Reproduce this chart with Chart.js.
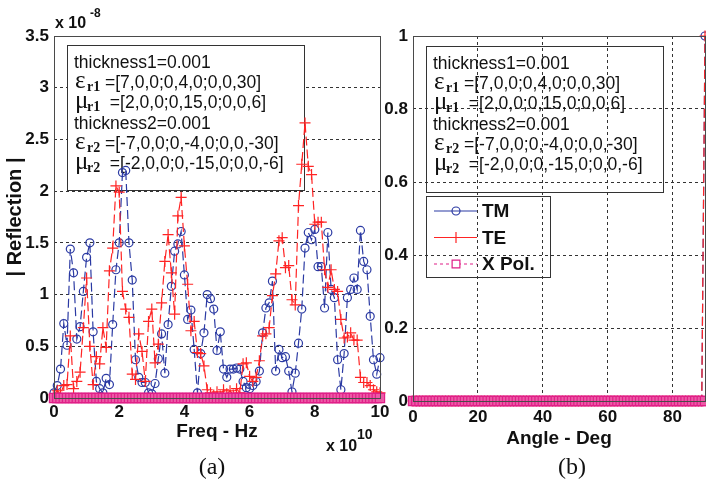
<!DOCTYPE html>
<html>
<head>
<meta charset="utf-8">
<script src="https://cdn.jsdelivr.net/npm/chart.js@4.4.1/dist/chart.umd.min.js"></script>
<style>
  html, body { margin: 0; padding: 0; background: #fff; }
  #wrap { position: relative; width: 706px; height: 488px; overflow: hidden; }
  canvas { position: absolute; top: 0; }
  #cLeft { left: 0; }
  #cRight { left: 380px; }
</style>
</head>
<body>
<div id="wrap">
  <canvas id="cLeft" width="390" height="488"></canvas>
  <canvas id="cRight" width="326" height="488"></canvas>
</div>
<script>
/* ── data ─────────────────────────────────────────────── */

// (a) frequency sweep, x 10^10 Hz
const FREQ_START = 0, FREQ_STEP = 0.1, FREQ_COUNT = 101;
const FREQ = Array.from({ length: FREQ_COUNT }, (_, i) => +(FREQ_START + i * FREQ_STEP).toFixed(2));
const FREQ_TICKS = [0, 2, 4, 6, 8, 10];
const REFL_TICKS = [0, 0.5, 1, 1.5, 2, 2.5, 3, 3.5];

// |Reflection| x 10^-8
const TM_FREQ = [
  0.05, 0.12, 0.28, 0.72, 0.51, 1.44, 1.21, 0.57, 0.69, 1.03,
  1.36, 1.50, 0.64, 0.16, 0.09, 0.05, 0.19, 0.13, 0.71, 1.24,
  1.50, 2.18, 2.20, 1.50, 1.14, 0.37, 0.20, 0.15, 0.15, 0.05,
  0.04, 0.14, 0.38, 0.62, 0.24, 0.71, 1.08, 1.42, 1.49, 1.61,
  1.19, 0.76, 0.85, 0.47, 0.05, 0.43, 0.63, 1.00, 0.96, 0.86,
  0.46, 0.64, 0.28, 0.20, 0.28, 0.28, 0.29, 0.28, 0.16, 0.10,
  0.09, 0.12, 0.16, 0.26, 0.63, 0.87, 0.92, 1.13, 0.26, 0.47,
  0.39, 0.40, 0.26, 0.06, 0.24, 0.53, 0.86, 1.45, 1.60, 1.53,
  1.63, 1.27, 1.27, 0.87, 1.60, 1.05, 0.97, 0.37, 0.08, 0.43,
  0.97, 1.05, 1.16, 1.05, 1.62, 1.32, 1.24, 0.79, 0.37, 0.23,
  0.39,
];
const TE_FREQ = [
  0.03, 0.07, 0.04, 0.12, 0.13, 0.60, 0.09, 0.16, 0.25, 0.68,
  1.16, 0.50, 0.13, 0.40, 0.33, 0.68, 0.49, 1.23, 1.45, 2.05,
  1.99, 1.03, 0.86, 0.78, 0.23, 0.18, 0.62, 0.45, 0.16, 0.74,
  0.86, 0.34, 0.52, 0.92, 1.32, 1.58, 1.21, 0.81, 1.76, 1.94,
  1.47, 1.10, 0.65, 0.74, 0.44, 0.43, 0.31, 0.08, 0.05, 0.03,
  0.06, 0.02, 0.08, 0.04, 0.07, 0.03, 0.09, 0.05, 0.33, 0.34,
  0.21, 0.16, 0.20, 0.36, 0.60, 0.62, 0.68, 0.99, 1.20, 1.52,
  1.55, 1.26, 1.28, 0.95, 0.90, 1.86, 2.26, 2.66, 2.24, 2.16,
  1.68, 1.70, 1.70, 1.24, 1.07, 1.24, 1.05, 1.03, 0.76, 0.58,
  0.59, 0.63, 0.56, 0.56, 0.20, 0.15, 0.15, 0.12, 0.08, 0.06,
  0.05,
];
const XPOL_FREQ = Array(FREQ_COUNT).fill(0);

// (b) angle sweep, degrees
const ANGLE = Array.from({ length: 91 }, (_, i) => i);
const ANGLE_TICKS = [0, 20, 40, 60, 80];
const ANGLE_Y_TICKS = [0, 0.2, 0.4, 0.6, 0.8, 1];
const TM_ANGLE = [...Array(90).fill(0), 1];
const TE_ANGLE = [...Array(90).fill(0), 1];
const XPOL_ANGLE = Array(91).fill(0);

const SERIES_LABELS = ['TM', 'TE', 'X Pol.'];

// text box contents: [greek, subscript, rest] or [plain]
const NOTE_LINES = [
  ['thickness1=0.001'],
  ['\u03b5', 'r1', '=[7,0,0;0,4,0;0,0,30]'],
  ['\u03bc', 'r1', ' =[2,0,0;0,15,0;0,0,6]'],
  ['thickness2=0.001'],
  ['\u03b5', 'r2', '=[-7,0,0;0,-4,0;0,0,-30]'],
  ['\u03bc', 'r2', ' =[-2,0,0;0,-15,0;0,0,-6]'],
];

/* ── styles ───────────────────────────────────────────── */
const SANS  = "'Liberation Sans', Arial, sans-serif";
const SERIF = "'Liberation Serif', 'Times New Roman', serif";
const COL = { tm: '#2b3aa3', te: '#ff2424', xpol: '#e01f88', xpolFill: '#ec5aa6', ink: '#111', grid: '#333', frame: '#4a4a4a' };

const STYLE = {
  TM:   { borderColor: COL.tm,   pointStyle: 'circle', pointRadius: 4,   fill: 'rgba(0,0,0,0)', borderDash: [9, 4], order: 3 },
  TE:   { borderColor: COL.te,   pointStyle: 'cross',  pointRadius: 5.5, fill: 'rgba(0,0,0,0)', borderDash: [9, 4], order: 2 },
  XPOL: { borderColor: COL.xpol, pointStyle: 'rect',   pointRadius: 6.5, fill: COL.xpolFill,    borderDash: [3, 3], order: 1 },
};

function series(label, xs, ys, st) {
  return {
    label,
    data: xs.map((x, i) => ({ x, y: ys[i] })),
    borderColor: st.borderColor,
    pointBorderColor: st.borderColor,
    backgroundColor: 'rgba(0,0,0,0)',
    pointBackgroundColor: st.fill,
    pointStyle: st.pointStyle,
    pointRadius: st.pointRadius,
    pointBorderWidth: 1.2,
    borderWidth: 1.2,
    borderDash: st.borderDash,
    tension: 0,
    clip: false,
    order: st.order,
  };
}

// ── helper: text box with greek + subscripts ─────────────
function drawNote(ctx, box) {
  ctx.save();
  ctx.setLineDash([]);
  if (box.fill) { ctx.fillStyle = '#fff'; ctx.fillRect(box.x, box.y, box.w, box.h); }
  ctx.strokeStyle = '#333'; ctx.lineWidth = 1;
  ctx.strokeRect(box.x + 0.5, box.y + 0.5, box.w, box.h);
  ctx.fillStyle = COL.ink;
  ctx.textBaseline = 'alphabetic';
  NOTE_LINES.forEach((ln, i) => {
    const by = box.y + 23 + i * 20.2;
    const x0 = box.x + 7;
    if (ln.length === 1) {
      ctx.font = `17.5px ${SANS}`;
      ctx.fillText(ln[0], x0, by);
    } else {
      ctx.font = `25px ${SERIF}`;
      ctx.fillText(ln[0], x0 + 1, by);
      ctx.font = `bold 14px ${SERIF}`;
      ctx.fillText(ln[1], x0 + 13, by + 3);
      ctx.font = `17.5px ${SANS}`;
      ctx.fillText(ln[2], x0 + 31, by);
    }
  });
  ctx.restore();
}

// ── helper: legend box drawn like the MATLAB one ─────────
function drawLegend(chart, lg) {
  const ctx = chart.ctx;
  ctx.save();
  ctx.strokeStyle = '#333'; ctx.lineWidth = 1; ctx.setLineDash([]);
  ctx.strokeRect(lg.x + 0.5, lg.y + 0.5, lg.w, lg.h);
  chart.data.datasets.forEach((ds, i) => {
    const y = lg.y + 15 + i * 26.5;
    ctx.strokeStyle = ds.borderColor;
    ctx.lineWidth = 1.2;
    ctx.setLineDash(i === 2 ? [3, 3] : []);
    ctx.beginPath(); ctx.moveTo(lg.x + 8, y); ctx.lineTo(lg.x + 51, y); ctx.stroke();
    ctx.setLineDash([]);
    ctx.fillStyle = i === 2 ? '#fff' : 'rgba(0,0,0,0)';
    const r = i === 2 ? 5.5 : ds.pointRadius;
    Chart.helpers.drawPoint(ctx, { pointStyle: ds.pointStyle, radius: r, borderWidth: 1.2, rotation: 0 }, lg.x + 30, y);
    ctx.fillStyle = COL.ink;
    ctx.font = `bold 19px ${SANS}`;
    ctx.textBaseline = 'middle';
    ctx.fillText(ds.label, lg.x + 56, y + 1);
  });
  ctx.restore();
}

// ── plugin: frame, notes, legend, exponent labels ───────
const figurePlugin = {
  id: 'figure',
  beforeDatasetsDraw(chart, args, opts) {
    if (opts.note) drawNote(chart.ctx, opts.note);
  },
  afterDraw(chart, args, opts) {
    const ctx = chart.ctx, a = chart.chartArea;
    ctx.save();
    ctx.strokeStyle = COL.frame; ctx.lineWidth = 1; ctx.setLineDash([]);
    ctx.strokeRect(a.left + 0.5, a.top + 0.5, a.right - a.left, a.bottom - a.top);
    ctx.restore();
    if (opts.legend) drawLegend(chart, opts.legend);
    ctx.save();
    ctx.fillStyle = COL.ink;
    ctx.textBaseline = 'alphabetic';
    (opts.texts || []).forEach(t => {
      ctx.font = t.font;
      ctx.textAlign = t.align || 'left';
      ctx.fillText(t.text, t.x, t.y);
    });
    ctx.restore();
  },
};

const tickFmt = v => String(+v.toFixed(2));

// fixed axis sizes, and no extra room reserved for edge labels
const fixX = h => ax => { ax.height = h; ax.paddingLeft = 0; ax.paddingRight = 0; };
const fixY = w => ax => { ax.width = w; ax.paddingTop = 0; ax.paddingBottom = 0; };

function axisCommon(ticks, extra) {
  return Object.assign({
    type: 'linear',
    min: ticks[0],
    max: ticks[ticks.length - 1],
    afterBuildTicks: ax => { ax.ticks = ticks.map(v => ({ value: v })); },
    border: { display: false, dash: [3, 3] },
    grid: { color: COL.grid, drawTicks: false, lineWidth: 1 },
  }, extra);
}

function tickOpts(padding) {
  return { color: COL.ink, font: { family: SANS, size: 17, weight: 'bold' }, padding, maxRotation: 0, autoSkip: false, callback: tickFmt };
}
function titleOpts(text, size, pad) {
  return { display: true, text, color: COL.ink, font: { family: SANS, size, weight: 'bold' }, padding: pad };
}

/* ── (a) reflection vs frequency ──────────────────────── */
new Chart(document.getElementById('cLeft'), {
  type: 'line',
  data: {
    datasets: [
      series(SERIES_LABELS[0], FREQ, TM_FREQ, STYLE.TM),
      series(SERIES_LABELS[1], FREQ, TE_FREQ, STYLE.TE),
      series(SERIES_LABELS[2], FREQ, XPOL_FREQ, STYLE.XPOL),
    ],
  },
  options: {
    responsive: false,
    animation: false,
    layout: { autoPadding: false, padding: { top: 36, right: 10, bottom: 45, left: 0 } },
    plugins: {
      legend: { display: false },
      tooltip: { enabled: false },
      figure: {
        note: { x: 67, y: 45, w: 237, h: 145, fill: true },
        texts: [
          { text: 'x 10', x: 55, y: 28, font: `bold 16px ${SANS}` },
          { text: '-8', x: 90, y: 17, font: `bold 12px ${SANS}` },
          { text: 'x 10', x: 326, y: 451, font: `bold 16px ${SANS}` },
          { text: '10', x: 357, y: 439, font: `bold 14px ${SANS}` },
          { text: '(a)', x: 212, y: 474, align: 'center', font: `24px ${SERIF}` },
        ],
      },
    },
    scales: {
      x: axisCommon(FREQ_TICKS, {
        afterFit: fixX(45),
        grid: { display: false, drawTicks: false },
        ticks: tickOpts(4),
        title: titleOpts('Freq - Hz', 19, { top: 0, bottom: 0 }),
      }),
      y: axisCommon(REFL_TICKS, {
        afterFit: fixY(54),
        ticks: tickOpts(5),
        title: titleOpts('| Reflection |', 20, { top: 3, bottom: 0 }),
      }),
    },
  },
  plugins: [figurePlugin],
});

/* ── (b) reflection vs angle ──────────────────────────── */
new Chart(document.getElementById('cRight'), {
  type: 'line',
  data: {
    datasets: [
      series(SERIES_LABELS[0], ANGLE, TM_ANGLE, STYLE.TM),
      series(SERIES_LABELS[1], ANGLE, TE_ANGLE, STYLE.TE),
      series(SERIES_LABELS[2], ANGLE, XPOL_ANGLE, STYLE.XPOL),
    ],
  },
  options: {
    responsive: false,
    animation: false,
    layout: { autoPadding: false, padding: { top: 36, right: 1, bottom: 38, left: 0 } },
    plugins: {
      legend: { display: false },
      tooltip: { enabled: false },
      figure: {
        note: { x: 46, y: 46, w: 237, h: 146, fill: false },
        legend: { x: 46, y: 196, w: 124, h: 81 },
        texts: [
          { text: '(b)', x: 192, y: 474, align: 'center', font: `24px ${SERIF}` },
        ],
      },
    },
    scales: {
      x: axisCommon([0, 90], {
        afterBuildTicks: ax => { ax.ticks = ANGLE_TICKS.map(v => ({ value: v })); },
        afterFit: fixX(49),
        ticks: tickOpts(6),
        title: titleOpts('Angle - Deg', 19, { top: 0, bottom: 0 }),
      }),
      y: axisCommon(ANGLE_Y_TICKS, {
        afterFit: fixY(33),
        ticks: tickOpts(5),
      }),
    },
  },
  plugins: [figurePlugin],
});
</script>
</body>
</html>
